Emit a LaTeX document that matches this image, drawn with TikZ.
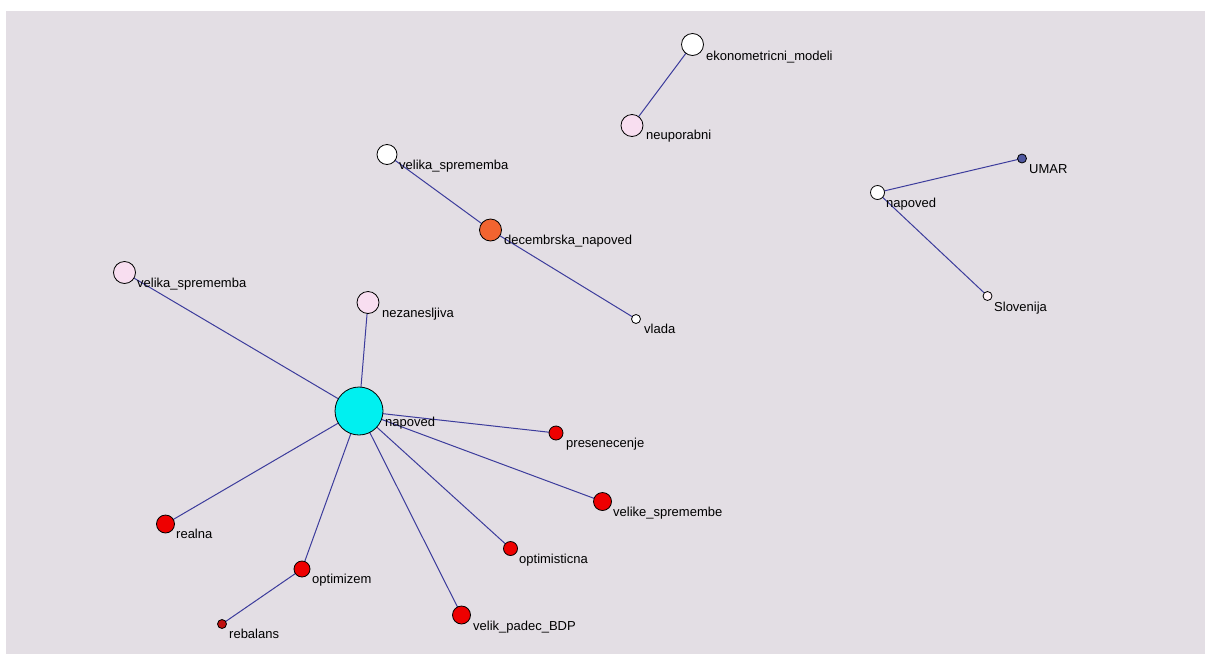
\documentclass[tikz,border=0pt]{standalone}
\usepackage{fontspec}
\setmainfont{Liberation Sans}
\pgfdeclarelayer{bg}
\pgfdeclarelayer{edges}
\pgfsetlayers{bg,edges,main}
\definecolor{bgc}{HTML}{E3DEE4}
\definecolor{edgec}{HTML}{3C3C9C}
\definecolor{pinkc}{HTML}{F8DEF0}
\definecolor{orangec}{HTML}{F26430}
\definecolor{cyanc}{HTML}{00F0F0}
\definecolor{redc}{HTML}{EE0000}
\definecolor{darkredc}{HTML}{C01010}
\definecolor{umarc}{HTML}{5058A0}
\definecolor{slovc}{HTML}{FFF2F8}
\tikzset{
  vtx/.style={circle, draw=black, line width=0.8pt, inner sep=0pt, minimum size=#1},
  lbl/.style={anchor=base west, inner sep=0pt, font=\fontsize{13}{15}\selectfont, text=black},
  conn/.style={draw=edgec, line width=1pt}
}
\begin{document}
\begin{tikzpicture}[x=1pt,y=-1pt]
\useasboundingbox (0,0) rectangle (1205,654);
\begin{pgfonlayer}{bg}
\fill[white] (0,0) rectangle (1205,654);
\fill[bgc] (6,11) rectangle (1205,654);
\end{pgfonlayer}
% top cluster
\node[vtx=22pt, fill=white] (eko) at (692.5,44.5) {};
\node[lbl] (eko-l) at (706,60) {ekonometricni\_modeli};
\node[vtx=22pt, fill=pinkc] (neu) at (632,125.5) {};
\node[lbl] (neu-l) at (646,139) {neuporabni};
% middle cluster
\node[vtx=20pt, fill=white] (vs1) at (387,154.5) {};
\node[lbl] (vs1-l) at (399,169) {velika\_sprememba};
\node[vtx=22pt, fill=orangec] (dec) at (490.5,230) {};
\node[lbl] (dec-l) at (504,244) {decembrska\_napoved};
\node[vtx=9pt, fill=white] (vla) at (636,319) {};
\node[lbl] (vla-l) at (644,333) {vlada};
% right cluster
\node[vtx=14pt, fill=white] (nap2) at (877.5,192.5) {};
\node[lbl] (nap2-l) at (886,207) {napoved};
\node[vtx=9pt, fill=umarc] (umar) at (1022,158.5) {};
\node[lbl] (umar-l) at (1029,173) {UMAR};
\node[vtx=9pt, fill=slovc] (slo) at (987.5,296) {};
\node[lbl] (slo-l) at (994,311) {Slovenija};
% main star
\node[vtx=48pt, fill=cyanc] (nap) at (359,411) {};
\node[lbl] (nap-l) at (385,426) {napoved};
\node[vtx=22pt, fill=pinkc] (vs2) at (124.5,272.5) {};
\node[lbl] (vs2-l) at (137,287) {velika\_sprememba};
\node[vtx=22pt, fill=pinkc] (nez) at (368,302.5) {};
\node[lbl] (nez-l) at (382,317) {nezanesljiva};
\node[vtx=14pt, fill=redc] (pre) at (556,433) {};
\node[lbl] (pre-l) at (566,447) {presenecenje};
\node[vtx=18pt, fill=redc] (vsp) at (602.5,501.5) {};
\node[lbl] (vsp-l) at (613,516) {velike\_spremembe};
\node[vtx=14pt, fill=redc] (opt) at (510.5,548.5) {};
\node[lbl] (opt-l) at (519,563) {optimisticna};
\node[vtx=18pt, fill=redc] (vpb) at (461.5,615) {};
\node[lbl] (vpb-l) at (473,630) {velik\_padec\_BDP};
\node[vtx=16pt, fill=redc] (optz) at (302,569) {};
\node[lbl] (optz-l) at (312,583) {optimizem};
\node[vtx=18pt, fill=redc] (rea) at (165.5,524) {};
\node[lbl] (rea-l) at (176,538) {realna};
\node[vtx=9pt, fill=darkredc] (reb) at (222,624) {};
\node[lbl] (reb-l) at (229,638) {rebalans};
% edges
\begin{pgfonlayer}{edges}
\draw[conn] (eko.center) -- (neu.center);
\draw[conn] (vs1.center) -- (dec.center);
\draw[conn] (dec.center) -- (vla.center);
\draw[conn] (nap2.center) -- (umar.center);
\draw[conn] (nap2.center) -- (slo.center);
\draw[conn] (nap.center) -- (vs2.center);
\draw[conn] (nap.center) -- (nez.center);
\draw[conn] (nap.center) -- (pre.center);
\draw[conn] (nap.center) -- (vsp.center);
\draw[conn] (nap.center) -- (opt.center);
\draw[conn] (nap.center) -- (vpb.center);
\draw[conn] (nap.center) -- (optz.center);
\draw[conn] (nap.center) -- (rea.center);
\draw[conn] (optz.center) -- (reb.center);
\end{pgfonlayer}
\end{tikzpicture}
\end{document}
